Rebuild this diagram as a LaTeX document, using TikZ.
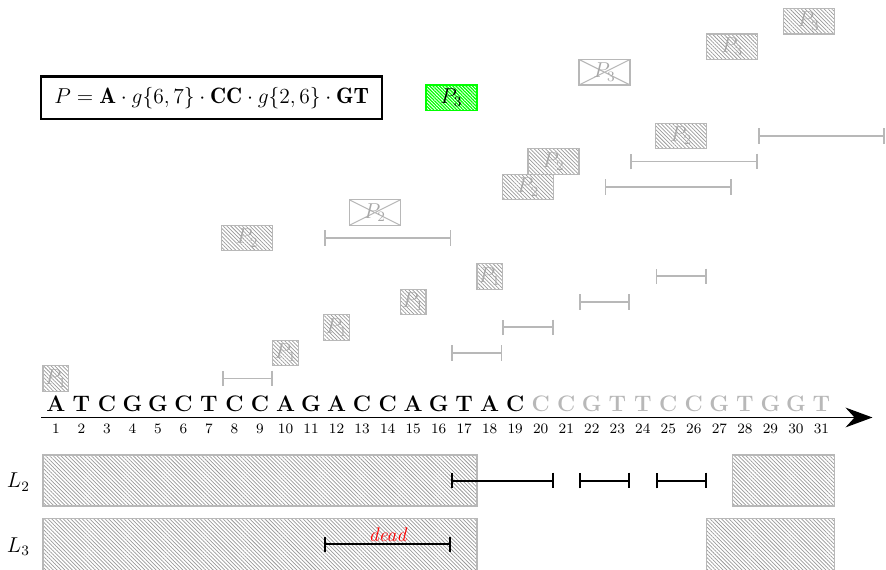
\documentclass[tikz,border=0pt]{standalone}
\usepackage{fontspec}
\usetikzlibrary{patterns.meta,arrows.meta}
\definecolor{lg}{gray}{0.72}
\definecolor{ptxt}{gray}{0.66}
\definecolor{hatch}{gray}{0.60}
\definecolor{vgreen}{rgb}{0,1,0}
\begin{document}
\begin{tikzpicture}[x=0.5cm,y=0.5cm,
  hbox/.style={draw=lg, line width=0.7pt,
    pattern={Lines[angle=-45,distance=1.5pt,line width=0.4pt]}, pattern color=hatch,
    inner sep=0pt, text=ptxt, font=\fontsize{11.5}{13}\selectfont},
  onebox/.style={hbox, minimum width=0.5cm, minimum height=0.5cm},
  twobox/.style={hbox, minimum width=1cm, minimum height=0.5cm},
  xbox/.style={draw=lg, line width=0.7pt, fill=white, minimum width=1cm, minimum height=0.5cm,
    inner sep=0pt, text=ptxt, font=\fontsize{11.5}{13}\selectfont,
    path picture={\draw[lg, line width=0.6pt]
      (path picture bounding box.north west) -- (path picture bounding box.south east)
      (path picture bounding box.south west) -- (path picture bounding box.north east);}},
  gbox/.style={draw=vgreen, line width=1.1pt,
    pattern={Lines[angle=-45,distance=1.3pt,line width=0.7pt]}, pattern color=vgreen,
    minimum width=1cm, minimum height=0.5cm, inner sep=0pt, text=black,
    font=\fontsize{11.5}{13}\selectfont},
  giv/.style={draw=lg, line width=1.05pt, {Bar[width=8.7pt]}-{Bar[width=8.7pt]}},
  biv/.style={draw=black, line width=1.1pt, {Bar[width=8.7pt]}-{Bar[width=8.7pt]}},
  lbox/.style={draw=lg, line width=0.7pt,
    pattern={Lines[angle=-45,distance=1.5pt,line width=0.4pt]}, pattern color=hatch},
  seq/.style={anchor=base, inner sep=0pt, font=\fontsize{12.5}{14}\selectfont\bfseries},
  num/.style={anchor=base, inner sep=0pt, font=\fontsize{8}{9}\selectfont},
  lab/.style={anchor=base, inner sep=0pt, font=\fontsize{12}{14}\selectfont},
  axis/.style={line width=1.1pt, -{Stealth[length=15pt,width=11pt,inset=5pt]}}
]
\useasboundingbox (-1.19,-7.50) rectangle (33.53,14.83);

% formula
\node[draw, line width=1.2pt, minimum width=6.68cm, minimum height=0.83cm, inner sep=0pt,
  font=\fontsize{12.4}{14}\selectfont] (formula) at (7.11,11.0)
  {$P = \mathbf{A}\cdot g\{6,7\}\cdot \mathbf{CC}\cdot g\{2,6\}\cdot \mathbf{GT}$};

% P1 boxes
\node[onebox] (pa) at (1,0) {$P_1$};
\node[onebox] (pb) at (10,1) {$P_1$};
\node[onebox] (pc) at (12,2) {$P_1$};
\node[onebox] (pd) at (15,3) {$P_1$};
\node[onebox] (pe) at (18,4) {$P_1$};

% P2 boxes
\node[twobox] (qa) at (8.5,5.5) {$P_2$};
\node[xbox]   (qb) at (13.5,6.5) {$P_2$};
\node[twobox] (qc) at (19.5,7.5) {$P_2$};
\node[twobox] (qd) at (20.5,8.5) {$P_2$};
\node[twobox] (qe) at (25.5,9.5) {$P_2$};

% P3 boxes
\node[gbox]   (ra) at (16.5,11) {$P_3$};
\node[xbox]   (rb) at (22.5,12) {$P_3$};
\node[twobox] (rc) at (27.5,13) {$P_3$};
\node[twobox] (rd) at (30.5,14) {$P_3$};

% gray intervals
\draw[giv] (7.5,0) -- (9.5,0);
\draw[giv] (16.5,1) -- (18.5,1);
\draw[giv] (18.5,2) -- (20.5,2);
\draw[giv] (21.5,3) -- (23.5,3);
\draw[giv] (24.5,4) -- (26.5,4);
\draw[giv] (11.5,5.5) -- (16.5,5.5);
\draw[giv] (22.5,7.5) -- (27.5,7.5);
\draw[giv] (23.5,8.5) -- (28.5,8.5);
\draw[giv] (28.5,9.5) -- (33.5,9.5);

% sequence
\foreach \c [count=\i] in {A,T,C,G,G,C,T,C,C,A,G,A,C,C,A,G,T,A,C,C,C,G,T,T,C,C,G,T,G,G,T}{
  \ifnum\i<20 \def\col{black}\else\def\col{lg}\fi
  \node[seq, text=\col] (s\i) at (\i,-1.30) {\c};
  \node[num] (n\i) at (\i,-2.14) {\i};
}
\coordinate (ax0) at (0.42,-1.53);
\coordinate (ax1) at (33.0,-1.53);
\draw[axis] (ax0) -- (ax1);

% L2
\node[lab] (l2) at (-0.47,-4.29) {$L_2$};
\draw[lbox] (0.5,-3) rectangle (17.5,-5);
\draw[lbox] (27.5,-3) rectangle (31.5,-5);
\draw[biv] (16.5,-4) -- (20.5,-4);
\draw[biv] (21.5,-4) -- (23.5,-4);
\draw[biv] (24.5,-4) -- (26.5,-4);

% L3
\node[lab] (l3) at (-0.47,-6.82) {$L_3$};
\draw[lbox] (0.5,-5.5) rectangle (17.5,-7.6);
\draw[lbox] (26.5,-5.5) rectangle (31.5,-7.6);
\draw[biv] (11.5,-6.5) -- (16.5,-6.5);
\node[anchor=base, inner sep=0pt, text=red, font=\fontsize{11}{12}\selectfont\itshape] (dead) at (14,-6.38) {dead};
\end{tikzpicture}
\end{document}
